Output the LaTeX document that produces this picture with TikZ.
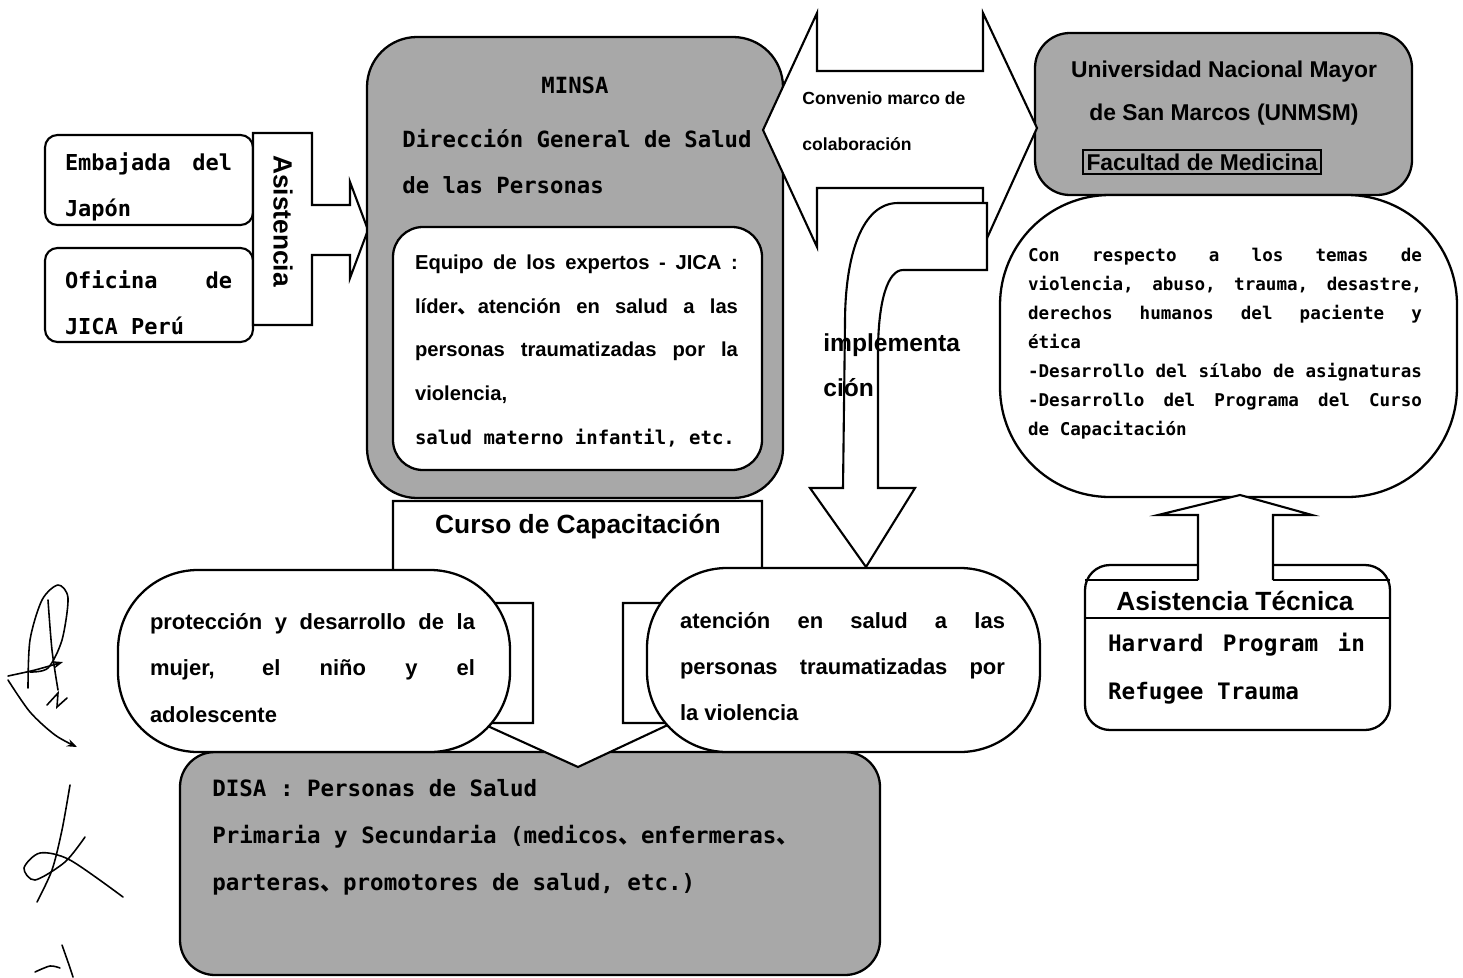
\documentclass[tikz,border=0pt]{standalone}
\usepackage{fontspec}
\setmainfont{Liberation Sans}
\newfontfamily\gothic{DejaVu Sans Mono}
\newfontfamily\cjk{Noto Sans CJK JP}
\newcommand\tenten{{\cjk 、}}
\usetikzlibrary{arrows.meta}
\definecolor{boxgray}{gray}{0.66}
\tikzset{
  graybox/.style={draw, line width=1.3pt, fill=boxgray},
  whitebox/.style={draw, line width=1.3pt, fill=white},
  smallbox/.style={draw, line width=1.2pt, fill=white, rounded corners=0.25cm},
  blockarrow/.style={draw, line width=1.2pt, fill=white},
  thinline/.style={line width=1pt},
  scribble/.style={line width=0.9pt, line cap=round},
  gothtxt/.style 2 args={inner sep=0pt, font=\gothic\bfseries\fontsize{#1}{#2}\selectfont},
  sanstxt/.style 2 args={inner sep=0pt, font=\bfseries\fontsize{#1}{#2}\selectfont}
}

\begin{document}
\begin{tikzpicture}[x=0.02cm,y=-0.02cm]
	\useasboundingbox (0,0) rectangle (1463,977);
	
	% donantes
	\draw[smallbox] (45,135) rectangle (253,225);
	\draw[smallbox] (45,248) rectangle (253,342);
	\draw[blockarrow] (253,133) -- (312,133) -- (312,205) -- (350,205) -- (350,182) -- (368,230) -- (350,278) -- (350,255) -- (312,255) -- (312,325) -- (253,325) -- cycle;
	
	% MINSA
	\draw[graybox, rounded corners=1cm] (367,37) rectangle (783,498);
	\draw[whitebox, rounded corners=0.6cm] (393,227) rectangle (762,470);
	
	% UNMSM
	\draw[graybox, rounded corners=0.7cm] (1035,33) rectangle (1412,195);
	
	% convenio y implementacion
	\draw[blockarrow] (763,130) -- (817,13) -- (817,71) -- (983,71) -- (983,13) -- (1037,128) -- (983,247) -- (983,188) -- (817,188) -- (817,247) -- cycle;
	\draw[blockarrow] (987,203) -- (898,203) .. controls (862,203) and (845,255) .. (845,323) -- (843,488) -- (810,488) -- (866,567) -- (915,488) -- (878,488) -- (878,353) .. controls (878,300) and (888,270) .. (903,270) -- (987,270) -- cycle;
	\draw[whitebox, rounded corners=2.2cm] (1000,195) rectangle (1457,497);
	
	% DISA y curso
	\draw[graybox, rounded corners=0.7cm] (180,752) rectangle (880,975);
	\draw[blockarrow] (393,501) -- (762,501) -- (762,603) -- (623,603) -- (623,723) -- (672,723) -- (578,767) -- (481,723) -- (533,723) -- (533,603) -- (393,603) -- cycle;
	\draw[whitebox, rounded corners=1.6cm] (118,570) rectangle (510,752);
	\draw[whitebox, rounded corners=1.6cm] (647,568) rectangle (1040,752);
	
	% asistencia tecnica
	\draw[whitebox, rounded corners=0.5cm] (1085,565) rectangle (1390,730);
	\draw[thinline] (1085,580) -- (1390,580);
	\draw[thinline] (1085,618) -- (1390,618);
	\fill[white] (1198,515) rectangle (1273,583);
	\draw[blockarrow] (1198,580) -- (1198,515) -- (1158,515) -- (1240,495) -- (1312,515) -- (1273,515) -- (1273,580);
	
	% textos
	\node[gothtxt={12.5}{26}, text width=3.34cm, align=justify] (embajada) at (148.5,187) {Embajada del\linebreak Japón};
	\node[gothtxt={12.5}{26}, text width=3.34cm, align=justify] (oficina) at (148.5,302.5) {Oficina de\linebreak JICA Perú};
	\node[sanstxt={15}{18}, rotate=-90] (asistencia) at (283,221) {Asistencia};
	\node[gothtxt={12.7}{26.6}] (minsa) at (575,85) {MINSA};
	\node[gothtxt={12.7}{26.6}, anchor=west, align=left] (dgsp) at (402,161.5) {Dirección General de Salud\\de las Personas};
	\node[sanstxt={11.5}{24.9}, text width=6.46cm, align=justify] (equipo) at (576.5,351) {Equipo de los expertos - JICA :\linebreak líder\tenten atención en salud a las\linebreak personas traumatizadas por la\linebreak violencia,\\{\gothic\fontsize{10.8}{24.9}\selectfont salud materno infantil, etc.}};
	\node[sanstxt={10}{26}, anchor=west, align=left] (convenio) at (802,121) {Convenio marco de\\colaboración};
	\node[sanstxt={13}{24.4}, align=center] (unmsm) at (1224,93) {Universidad Nacional Mayor\\de San Marcos (UNMSM)};
	\node[sanstxt={13}{15}, draw, line width=0.8pt, inner sep=2pt] (facultad) at (1202,162) {Facultad de Medicina};
	\node[gothtxt={10}{16.5}, text width=7.88cm, align=justify] (temas) at (1225,344) {Con respecto a los temas de\linebreak violencia, abuso, trauma, desastre,\linebreak derechos humanos del paciente y\linebreak ética\\-Desarrollo del sílabo de asignaturas\linebreak -Desarrollo del Programa del Curso\linebreak de Capacitación};
	\node[sanstxt={14}{25.5}, anchor=west, align=left] (implementa) at (823,365) {implementa\\ción};
	\node[sanstxt={15}{18}] (curso) at (578,527) {Curso de Capacitación};
	\node[sanstxt={12.5}{26.4}, text width=6.5cm, align=justify] (mujer) at (312.5,668) {protección y desarrollo de la\linebreak mujer, el niño y el\linebreak adolescente};
	\node[sanstxt={12.5}{26.4}, text width=6.5cm, align=justify] (atencion) at (842.5,666.5) {atención en salud a las\linebreak personas traumatizadas por\linebreak la violencia};
	\node[gothtxt={12.8}{26.9}, anchor=west, align=left] (disa) at (212,837.5) {DISA : Personas de Salud\\Primaria y Secundaria (medicos\tenten enfermeras\tenten\\parteras\tenten promotores de salud, etc.)};
	\node[sanstxt={15}{18}] (asistec) at (1235,601) {Asistencia Técnica};
	\node[gothtxt={12.9}{27.2}, text width=5.14cm, align=justify] (harvard) at (1236.5,669) {Harvard Program in\linebreak Refugee Trauma};
	
	% firmas al margen
	\draw[scribble] plot[smooth] coordinates {(28,688) (30,640) (42,600) (58,585) (68,598) (62,640) (48,668) (30,672)};
	\draw[scribble] plot[smooth] coordinates {(48,600) (52,650) (58,690)};
	\draw[scribble, -{Stealth[length=2mm]}] plot[smooth] coordinates {(8,676) (35,670) (63,662)};
	\draw[scribble, -{Stealth[length=2mm]}] plot[smooth] coordinates {(8,680) (30,712) (55,735) (77,747)};
	\draw[scribble] (47,705) -- (58,693) -- (57,707) -- (67,698);
	\draw[scribble] plot[smooth] coordinates {(70,785) (62,830) (52,870) (37,902)};
	\draw[scribble] plot[smooth] coordinates {(85,837) (65,862) (35,880) (24,868) (40,853) (70,860) (123,897)};
	\draw[scribble] plot[smooth] coordinates {(62,945) (68,962) (73,977)};
	\draw[scribble] plot[smooth] coordinates {(35,972) (50,966) (60,968)};
\end{tikzpicture}
\end{document}
